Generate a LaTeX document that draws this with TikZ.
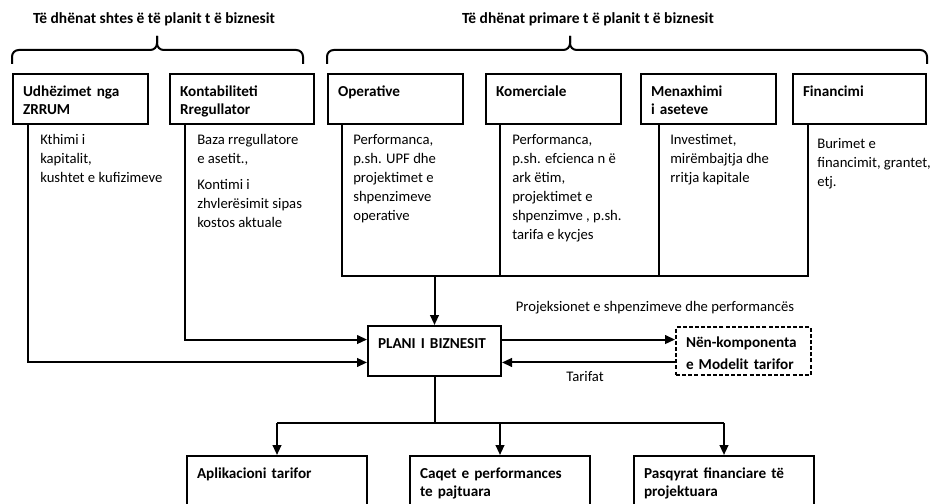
\documentclass[tikz,border=0pt]{standalone}
\usepackage{fontspec}
\setmainfont{Carlito}
\usetikzlibrary{arrows.meta,positioning,calc}

\begin{document}
\begin{tikzpicture}[
    x=0.75pt, y=-0.75pt,
    font=\fontsize{11}{14.3}\selectfont,
    box/.style={rectangle, draw, line width=1.5pt, anchor=north west, align=left, font=\fontsize{11.4}{13.5}\selectfont\bfseries, inner xsep=7.5pt, inner ysep=3pt, text height=13.5pt, text depth=18pt, text width=#1},
    box/.default=86pt,
    lowbox/.style={box=120pt, text depth=40pt},
    note/.style={anchor=north west, align=left, inner sep=0pt},
    hdr/.style={font=\fontsize{11.6}{13}\selectfont\bfseries},
    wire/.style={line width=1.5pt},
    arrow/.style={wire, -{Triangle[length=7.5pt, width=6.5pt]}}
]
    \clip (0,0) rectangle (934,503);

    % Headings and braces
    \node[hdr] (ttlA) at (154,19) {Të dhënat shtes ë të planit t ë biznesit};
    \node[hdr] (ttlB) at (588,19) {Të dhënat primare t ë planit t ë biznesit};
    \coordinate (tipA) at (157,36);
    \coordinate (tipB) at (570,36);
    \draw[wire, rounded corners=5pt] (12,64) |- (tipA |- 0,50) -- (tipA);
    \draw[wire, rounded corners=5pt] (tipA) -- (tipA |- 0,50) -| (303,64);
    \draw[wire, rounded corners=5pt] (327,64) |- (tipB |- 0,50) -- (tipB);
    \draw[wire, rounded corners=5pt] (tipB) -- (tipB |- 0,50) -| (927,64);

    % Input boxes
    \node[box] (zrrum) at (12,73) {Udhëzimet nga\\ZRRUM};
    \node[box=93pt] (kont) at (169,73) {Kontabiliteti\\Rregullator};
    \node[box] (ope) at (327,73) {Operative};
    \node[box] (kom) at (485,73) {Komerciale};
    \node[box] (men) at (640,73) {Menaxhimi\\i aseteve};
    \node[box=84.75pt] (fin) at (792,73) {Financimi};

    % Notes under the boxes
    \node[note] (zrtxt) at (40,134) {Kthimi i\\kapitalit,\\kushtet e kufizimeve};
    \node[note] (kotxt) at (197,134) {Baza rregullatore\\e asetit.,\\[5pt]Kontimi i\\zhvlerësimit sipas\\kostos aktuale};
    \node[note] (optxt) at (353,134) {Performanca,\\p.sh. UPF dhe\\projektimet e\\shpenzimeve\\operative};
    \node[note] (kmtxt) at (512,134) {Performanca,\\p.sh. efcienca n ë\\ark ëtim,\\projektimet e\\shpenzimve , p.sh.\\tarifa e kycjes};
    \node[note] (mntxt) at (670,134) {Investimet,\\mirëmbajtja dhe\\rritja kapitale};
    \node[note] (fntxt) at (817,138) {Burimet e\\financimit, grantet,\\etj.};

    % Business plan and tariff model
    \node[box=84.75pt] (plani) at (367,325) {PLANI I BIZNESIT};
    \node[box, dashed, dash pattern=on 3pt off 1.6pt, text height=12pt, right=129.75pt of plani] (tmod) {Nën-komponenta\\[3pt]e Modelit tarifor};
    \node (projlbl) at (655,308) {Projeksionet e shpenzimeve dhe performancës};
    \node (tarlbl) at (585,377) {Tarifat};

    % Output boxes
    \node[lowbox] (apl) at (186,455) {Aplikacioni tarifor};
    \node[lowbox, right=30.75pt of apl] (caq) {Caqet e performances\\te pajtuara};
    \node[lowbox, right=31.5pt of caq] (pasq) {Pasqyrat financiare të\\projektuara};

    % Connectors
    \coordinate (bus) at (0,276);
    \coordinate (split) at (0,423);
    \draw[wire] ([xshift=11.5pt]ope.south west) |- ([xshift=12pt]fin.south west |- bus) -- ([xshift=12pt]fin.south west);
    \draw[wire] ([xshift=11.5pt]kom.south west) -- ([xshift=11.5pt]kom.south west |- bus);
    \draw[wire] ([xshift=14pt]men.south west) -- ([xshift=14pt]men.south west |- bus);
    \draw[arrow] (plani.north |- bus) -- (plani.north);
    \draw[arrow] ([xshift=12pt]kont.south west) |- ([yshift=8.6pt]plani.west);
    \draw[arrow] ([xshift=12pt]zrrum.south west) |- ([yshift=-8.6pt]plani.west);
    \draw[arrow] ([yshift=8.6pt]plani.east) -- ([yshift=8.6pt]tmod.west);
    \draw[arrow] ([yshift=-8.6pt]tmod.west) -- ([yshift=-8.6pt]plani.east);

    \draw[wire] (plani.south) -- (plani.south |- split);
    \draw[wire] (apl.north |- split) -- (pasq.north |- split);
    \draw[arrow] (apl.north |- split) -- (apl.north);
    \draw[arrow] (caq.north |- split) -- (caq.north);
    \draw[arrow] (pasq.north |- split) -- (pasq.north);
\end{tikzpicture}
\end{document}
